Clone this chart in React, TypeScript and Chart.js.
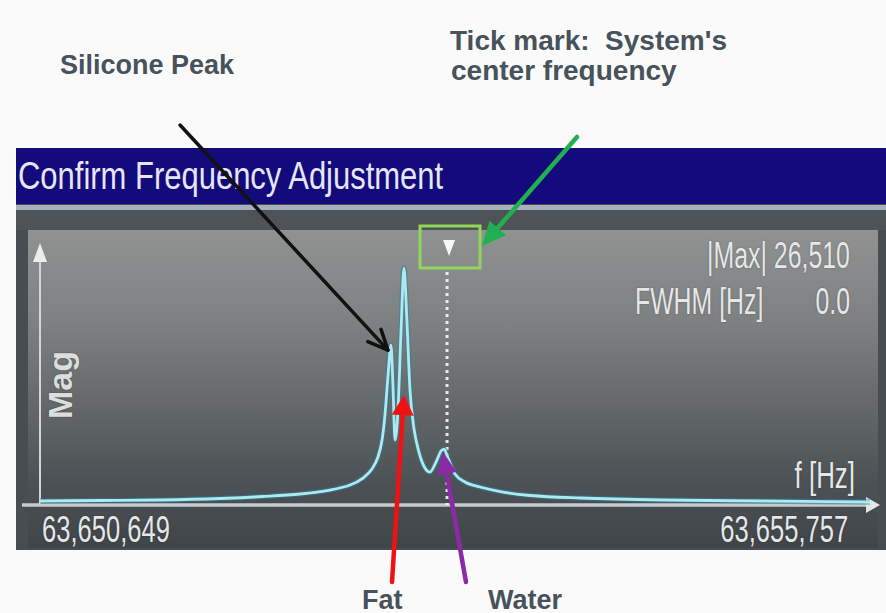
import React, { useEffect, useRef } from "react";
import { Chart, registerables } from "chart.js";

Chart.register(...registerables);

// ---- data (frequency in Hz, magnitude in a.u.) ----
const frequencies = [
  63650649, 63651018, 63651387, 63651757, 63652021, 63652249, 63652434, 63652557,
  63652637, 63652692, 63652729, 63652754, 63652772, 63652791, 63652809, 63652821,
  63652834, 63652852, 63652871, 63652889, 63652907, 63652926, 63652950, 63652981,
  63653018, 63653049, 63653086, 63653117, 63653135, 63653160, 63653203, 63653264,
  63653357, 63653498, 63653665, 63653972, 63654483, 63655080, 63655757,
];
const magnitudes = [
  447, 503, 559, 727, 951, 1230, 1678, 2237,
  3020, 4027, 5369, 7271, 10067, 14542, 17898, 13423,
  7271, 10627, 19576, 26510, 20694, 12864, 8613, 5929,
  4139, 3691, 4810, 6040, 6264, 5257, 3468, 2573,
  2013, 1454, 1063, 783, 559, 447, 336,
];
const fMin = 63650649;
const fMax = 63655757;
const magMax = 29000;
const centerFrequency = 63653154;
const tickLabels = ["63,650,649", "63,655,757"];
const maxReading = "26,510";
const fwhmReading = "0.0";
const siliconePeak = { f: 63652809, mag: 17898 };
const fatTarget = { f: 63652889, mag: 12300 };
const waterPeak = { f: 63653135, mag: 6264 };

const W = 886;
const H = 613;
const SANS = '"Liberation Sans", Arial, sans-serif';

function drawArrow(
  ctx: CanvasRenderingContext2D,
  x0: number, y0: number, x1: number, y1: number,
  color: string, width: number, headLen: number, headHalf: number, open = false
) {
  const dx = x1 - x0, dy = y1 - y0;
  const len = Math.hypot(dx, dy);
  const ux = dx / len, uy = dy / len;
  const px = -uy, py = ux;
  ctx.save();
  ctx.strokeStyle = color;
  ctx.fillStyle = color;
  ctx.lineWidth = width;
  ctx.lineCap = "round";
  ctx.lineJoin = "round";
  const endX = open ? x1 : x1 - ux * headLen * 0.7;
  const endY = open ? y1 : y1 - uy * headLen * 0.7;
  ctx.beginPath();
  ctx.moveTo(x0, y0);
  ctx.lineTo(endX, endY);
  ctx.stroke();
  const bx = x1 - ux * headLen, by = y1 - uy * headLen;
  ctx.beginPath();
  if (open) {
    ctx.moveTo(bx + px * headHalf, by + py * headHalf);
    ctx.lineTo(x1, y1);
    ctx.lineTo(bx - px * headHalf, by - py * headHalf);
    ctx.stroke();
  } else {
    ctx.moveTo(x1, y1);
    ctx.lineTo(bx + px * headHalf, by + py * headHalf);
    ctx.lineTo(bx - px * headHalf, by - py * headHalf);
    ctx.closePath();
    ctx.fill();
  }
  ctx.restore();
}

const panelPlugin = {
  id: "panelDecor",
  beforeDatasetsDraw(chart: any) {
    const { ctx, chartArea } = chart;
    const xs = chart.scales.x;
    const ys = chart.scales.y;
    const x0 = xs.getPixelForValue(fMin);
    const y0 = ys.getPixelForValue(0);
    const top = chartArea.top;
    ctx.save();
    // x axis
    ctx.strokeStyle = "#c9cbcc";
    ctx.lineWidth = 3.5;
    ctx.beginPath();
    ctx.moveTo(x0 - 18, y0);
    ctx.lineTo(chartArea.right + 2, y0);
    ctx.stroke();
    ctx.fillStyle = "#e4e6e7";
    ctx.beginPath();
    ctx.moveTo(chartArea.right + 10, y0);
    ctx.lineTo(chartArea.right - 4, y0 - 8);
    ctx.lineTo(chartArea.right - 4, y0 + 8);
    ctx.closePath();
    ctx.fill();
    // y axis
    ctx.strokeStyle = "#d3d5d6";
    ctx.lineWidth = 2;
    ctx.beginPath();
    ctx.moveTo(x0, y0);
    ctx.lineTo(x0, top + 12);
    ctx.stroke();
    ctx.fillStyle = "#eceeee";
    ctx.beginPath();
    ctx.moveTo(x0, top - 3);
    ctx.lineTo(x0 - 7, top + 16);
    ctx.lineTo(x0 + 7, top + 16);
    ctx.closePath();
    ctx.fill();
    // center frequency dotted line
    const cx = xs.getPixelForValue(centerFrequency);
    ctx.setLineDash([3, 4]);
    ctx.strokeStyle = "rgba(240,240,240,0.95)";
    ctx.lineWidth = 3;
    ctx.beginPath();
    ctx.moveTo(cx, top + 26);
    ctx.lineTo(cx, y0);
    ctx.stroke();
    ctx.setLineDash([]);
    // green tick box
    ctx.strokeStyle = "#8fd659";
    ctx.lineWidth = 3;
    ctx.strokeRect(cx - 27, top - 20, 60, 42);
    // tick triangle
    ctx.fillStyle = "#f6f6f6";
    ctx.beginPath();
    ctx.moveTo(cx - 4, top - 6);
    ctx.lineTo(cx + 8, top - 6);
    ctx.lineTo(cx + 2, top + 10);
    ctx.closePath();
    ctx.fill();
    ctx.restore();
  },
  afterDraw(chart: any) {
    const { ctx, chartArea } = chart;
    const xs = chart.scales.x;
    const ys = chart.scales.y;
    const top = chartArea.top;
    const cx = xs.getPixelForValue(centerFrequency);
    // black: silicone
    drawArrow(ctx, 180, 125,
      xs.getPixelForValue(siliconePeak.f) - 3, ys.getPixelForValue(siliconePeak.mag) + 5,
      "#111111", 3.5, 20, 9, true);
    // green: center frequency tick
    drawArrow(ctx, 577, 137, cx + 35, top, "#21b050", 4.5, 24, 11);
    // red: fat
    drawArrow(ctx, 392, 582,
      xs.getPixelForValue(fatTarget.f), ys.getPixelForValue(fatTarget.mag),
      "#f01212", 4.5, 20, 11);
    // purple: water
    drawArrow(ctx, 466, 582,
      xs.getPixelForValue(waterPeak.f) - 1, ys.getPixelForValue(waterPeak.mag) + 3,
      "#8a2aa6", 4.5, 22, 10);
  },
};

type LabelProps = {
  text: string;
  x: number;
  baseline: number;
  size: number;
  scale?: number;
  align?: "left" | "right";
  weight?: number;
  color: string;
  shadow?: string;
};

function Label({ text, x, baseline, size, scale = 1, align = "left", weight = 400, color, shadow }: LabelProps) {
  const style: React.CSSProperties = {
    position: "absolute",
    top: baseline - 0.8465 * size,
    fontSize: size,
    lineHeight: size + "px",
    fontFamily: SANS,
    fontWeight: weight,
    color,
    whiteSpace: "pre",
    transform: `scaleX(${scale})`,
    transformOrigin: align === "left" ? "left top" : "right top",
    textShadow: shadow,
  };
  if (align === "left") style.left = x;
  else style.right = W - x;
  return <div style={style}>{text}</div>;
}

export default function App() {
  const canvasRef = useRef<HTMLCanvasElement | null>(null);

  useEffect(() => {
    const canvas = canvasRef.current;
    if (!canvas) return;
    const points = frequencies.map((f, i) => ({ x: f, y: magnitudes[i] }));
    const chart = new Chart(canvas, {
      type: "line",
      data: {
        datasets: [
          {
            data: points,
            borderColor: "#ade9f3",
            borderWidth: 2.8,
            pointRadius: 0,
            cubicInterpolationMode: "monotone",
            fill: false,
          },
          {
            data: points,
            borderColor: "rgba(45,130,150,0.5)",
            borderWidth: 5.5,
            pointRadius: 0,
            cubicInterpolationMode: "monotone",
            fill: false,
          },
        ],
      },
      options: {
        animation: false,
        responsive: false,
        devicePixelRatio: 1,
        events: [],
        layout: { padding: { left: 40, right: 16, top: 246, bottom: 108 } },
        scales: {
          x: { type: "linear", min: fMin, max: fMax, display: false },
          y: { min: 0, max: magMax, display: false },
        },
        plugins: { legend: { display: false }, tooltip: { enabled: false } },
      },
      plugins: [panelPlugin],
    } as any);
    return () => chart.destroy();
  }, []);

  const panelText = "#e6e7e8";
  const panelShadow = "0 0 2px rgba(0,0,0,0.35)";
  const noteColor = "#47525a";

  return (
    <div style={{ position: "absolute", left: 0, top: 0, width: W, height: H, background: "#fafafa", overflow: "hidden" }}>
      {/* annotations */}
      <Label text="Silicone Peak" x={60} baseline={75} size={27} weight={700} color={noteColor} />
      <Label text="Tick mark:  System's" x={450} baseline={51} size={28} weight={700} color={noteColor} />
      <Label text="center frequency" x={451} baseline={81} size={28} weight={700} color={noteColor} />
      <Label text="Fat" x={362} baseline={610} size={27} weight={700} color={noteColor} />
      <Label text="Water" x={488} baseline={610} size={27} weight={700} color={noteColor} />

      {/* title bar */}
      <div style={{ position: "absolute", left: 16, top: 148, width: W - 16, height: 56, background: "#130a7c" }} />
      <Label text="Confirm Frequency Adjustment" x={18} baseline={189} size={38} scale={0.815} color="#e6e6f6" />

      {/* frame */}
      <div style={{ position: "absolute", left: 16, top: 204, width: W - 16, height: 346, background: "#474d50" }} />
      <div style={{ position: "absolute", left: 16, top: 205, width: W - 16, height: 5, background: "#a6b1bd" }} />
      <div style={{ position: "absolute", left: 16, top: 210, width: W - 16, height: 20, background: "#4d5356" }} />
      <div
        style={{
          position: "absolute", left: 28, top: 230, width: 850, height: 318,
          background: "linear-gradient(to bottom, #909292 0%, #7d8081 30%, #646869 55%, #4b5154 80%, #3f4548 100%)",
        }}
      />

      {/* panel texts */}
      <Label text={`|Max| ${maxReading}`} x={850} baseline={268} size={36} scale={0.69} align="right" color={panelText} shadow={panelShadow} />
      <Label text="FWHM [Hz]" x={635} baseline={314} size={36} scale={0.69} color={panelText} shadow={panelShadow} />
      <Label text={fwhmReading} x={850} baseline={314} size={36} scale={0.69} align="right" color={panelText} shadow={panelShadow} />
      <Label text="f [Hz]" x={855} baseline={488} size={36} scale={0.72} align="right" color={panelText} shadow={panelShadow} />
      <Label text={tickLabels[0]} x={42} baseline={542} size={36} scale={0.71} color={panelText} shadow={panelShadow} />
      <Label text={tickLabels[1]} x={848} baseline={542} size={36} scale={0.71} align="right" color={panelText} shadow={panelShadow} />
      <div
        style={{
          position: "absolute", left: 60, top: 385, fontFamily: SANS, fontWeight: 700, fontSize: 34,
          lineHeight: "34px", color: "#dcdddd", transform: "translate(-50%, -50%) rotate(-90deg)", whiteSpace: "pre",
          textShadow: panelShadow,
        }}
      >
        Mag
      </div>

      <canvas ref={canvasRef} width={W} height={H} style={{ position: "absolute", left: 0, top: 0, width: W, height: H }} />
    </div>
  );
}
